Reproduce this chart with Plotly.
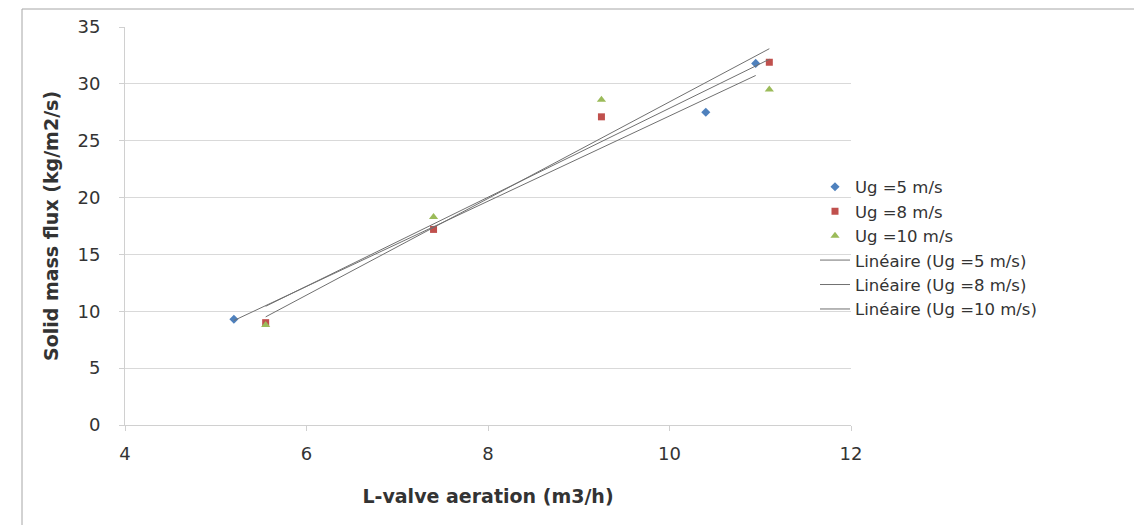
import numpy as np
import plotly.graph_objects as go

# Data
x_ug5 = [5.2, 10.4, 10.95]
y_ug5 = [9.3, 27.5, 31.8]
x_ug8 = [5.55, 7.4, 9.25, 11.1]
y_ug8 = [9.0, 17.2, 27.1, 31.9]
x_ug10 = [5.55, 7.4, 9.25, 11.1]
y_ug10 = [8.8, 18.3, 28.6, 29.5]

names = ["Ug =5 m/s", "Ug =8 m/s", "Ug =10 m/s"]
x_ticks = [4, 6, 8, 10, 12]
y_ticks = [0, 5, 10, 15, 20, 25, 30, 35]

series = [(x_ug5, y_ug5, "#4F81BD", "diamond", 7),
          (x_ug8, y_ug8, "#C0504D", "square", 7),
          (x_ug10, y_ug10, "#9BBB59", "triangle-up", 8)]

FONT = "DejaVu Sans"
TXT = "#333333"
fig = go.Figure()

for (xs, ys, col, sym, sz), nm in zip(series, names):
    fig.add_trace(go.Scatter(x=xs, y=ys, mode="markers", name=nm,
                             marker=dict(color=col, symbol=sym, size=sz)))

for (xs, ys, col, sym, sz), nm in zip(series, names):
    slope, icpt = np.polyfit(xs, ys, 1)
    xe = np.array([min(xs), max(xs)])
    fig.add_trace(go.Scatter(x=xe, y=slope * xe + icpt, mode="lines",
                             name="Linéaire (" + nm + ")",
                             line=dict(color="#707070", width=1)))

OFF = 8  # page body margin
W, H = 1142, 525
L, T = 125 - OFF, 27 - OFF
pw = 851 - 125
ph = 425 - 27
R = W - L - pw
B = H - T - ph


def px_x(sx):
    return (sx - 125) / pw


def px_y(sy):
    return (425 - sy) / ph


fig.update_layout(
    width=W, height=H,
    margin=dict(l=L, r=R, t=T, b=B, autoexpand=False),
    plot_bgcolor="white", paper_bgcolor="white",
    font=dict(family=FONT, size=18, color=TXT),
    showlegend=True,
    legend=dict(x=px_x(815), y=px_y(248), xanchor="left", yanchor="middle",
                font=dict(family=FONT, size=16.5, color=TXT),
                bgcolor="rgba(0,0,0,0)", tracegroupgap=0, itemwidth=30),
    xaxis=dict(range=[4, 12], tickvals=x_ticks, ticktext=[str(v) for v in x_ticks],
               showgrid=False, zeroline=False, showline=True, linecolor="#D0D0D0", linewidth=1,
               ticks="outside", ticklen=5, tickcolor="#D0D0D0", ticklabelstandoff=7,
               tickfont=dict(family=FONT, size=18, color=TXT),
               title=dict(text="<b>L-valve aeration (m3/h)</b>", standoff=27,
                          font=dict(family=FONT, size=19, color=TXT)),
               automargin=False),
    yaxis=dict(range=[0, 35], tickvals=y_ticks, ticktext=[str(v) for v in y_ticks],
               showgrid=True, gridcolor="#D9D9D9", gridwidth=1, zeroline=False,
               showline=True, linecolor="#D0D0D0", linewidth=1,
               ticks="outside", ticklen=5, tickcolor="#D0D0D0", ticklabelstandoff=15,
               tickfont=dict(family=FONT, size=18, color=TXT),
               title=dict(text="<b>Solid mass flux (kg/m2/s)</b>", standoff=13,
                          font=dict(family=FONT, size=19, color=TXT)),
               automargin=False),
)

# chart-area border
fig.add_shape(type="rect", xref="paper", yref="paper",
              x0=px_x(22), x1=px_x(1170),
              y0=px_y(560), y1=px_y(9),
              line=dict(color="#A6A6A6", width=1), layer="below")

fig.write_html("out.html")
